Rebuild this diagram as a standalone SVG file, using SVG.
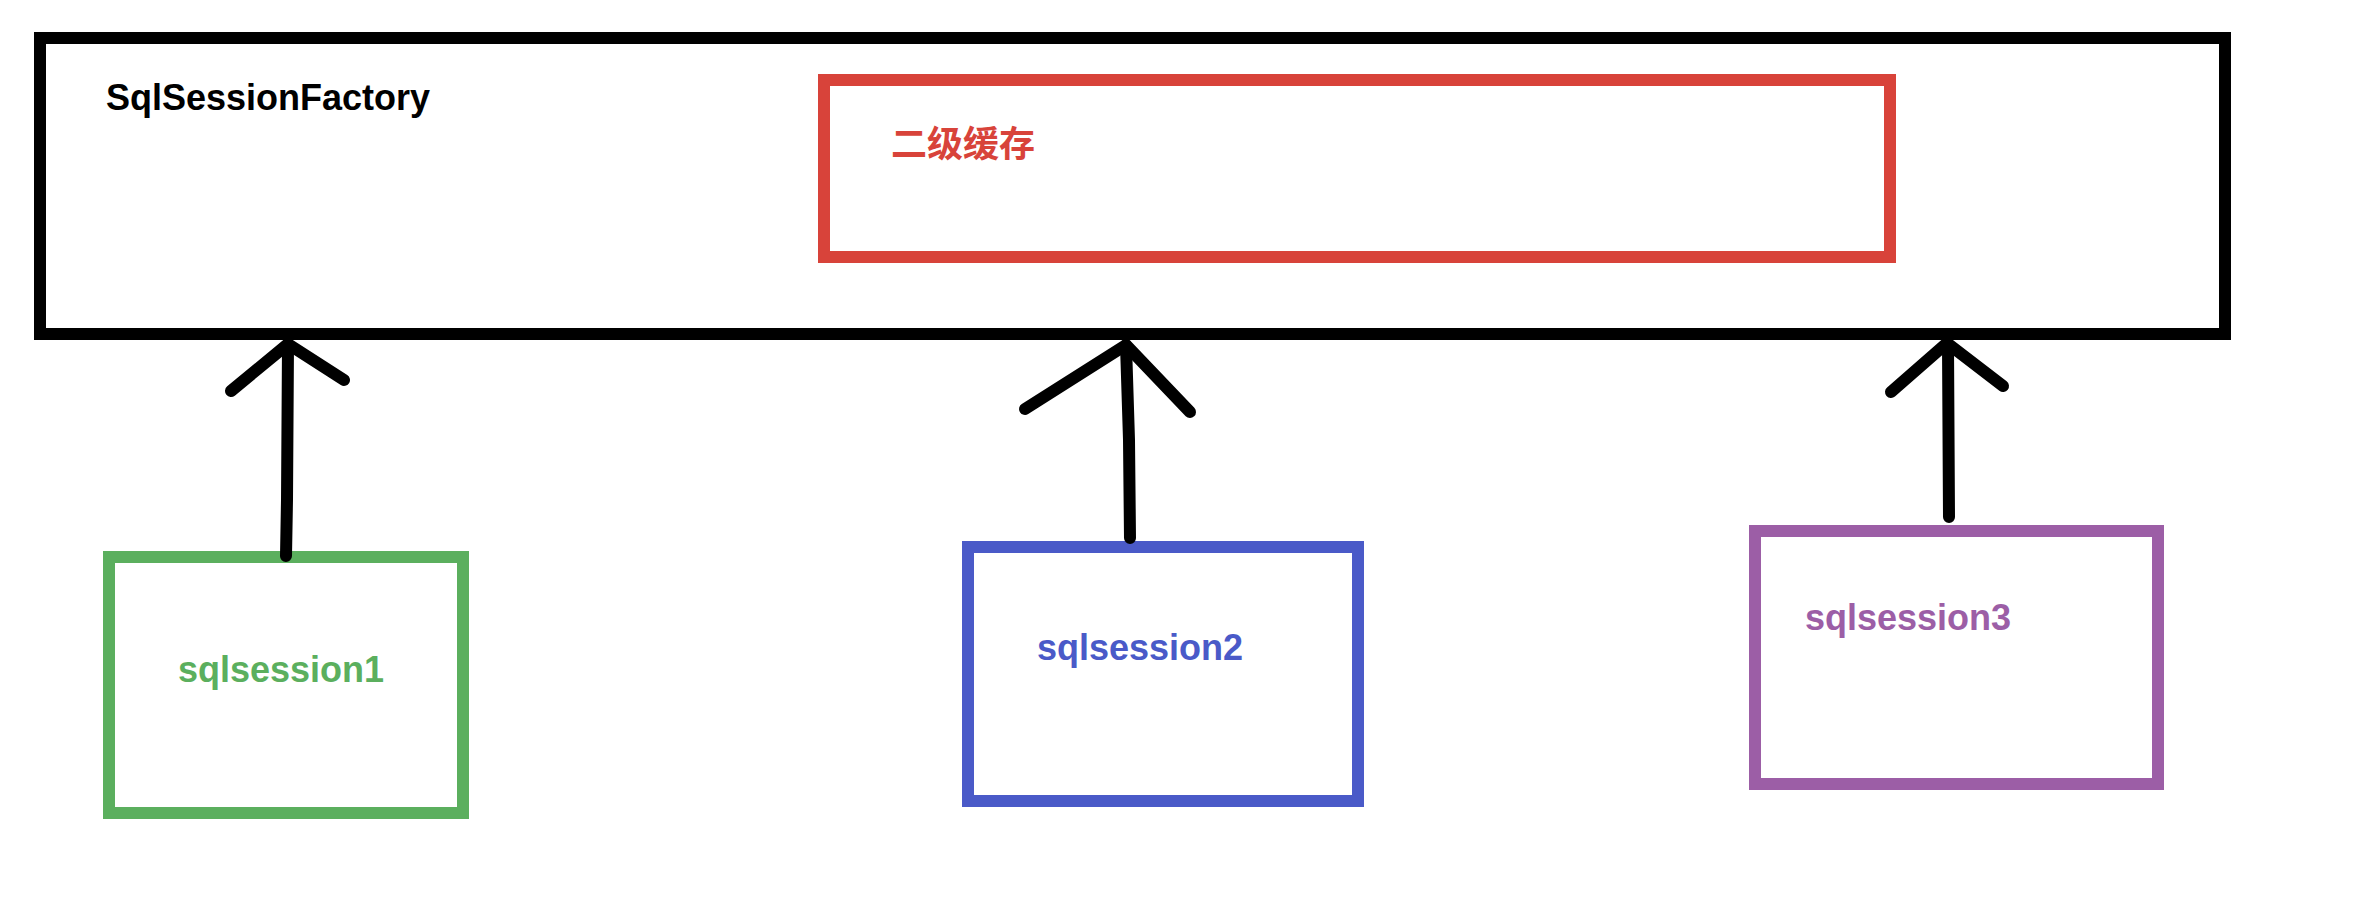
<svg xmlns="http://www.w3.org/2000/svg" width="2366" height="912" viewBox="0 0 2366 912">
  <style>
    .box { fill: none; stroke-width: 12; }
    .lbl { font-family: "Liberation Sans", Arial, sans-serif; font-weight: bold; font-size: 36px; }
    .cjk { font-family: "Noto Sans CJK SC", "Liberation Sans", sans-serif; font-weight: bold; font-size: 36px; }
    .conn { fill: none; stroke: #000; stroke-width: 12; stroke-linecap: round; stroke-linejoin: round; }
  </style>
  <rect x="0" y="0" width="2366" height="912" fill="#ffffff"/>
  <g id="factory">
    <rect class="box" x="40" y="38" width="2185" height="296" stroke="#000000"/>
    <text class="lbl" x="106" y="110" fill="#000000">SqlSessionFactory</text>
  </g>
  <g id="cache">
    <rect class="box" x="824" y="80" width="1066" height="177" stroke="#D8433A"/>
    <text class="cjk" x="891" y="157" fill="#D8433A">二级缓存</text>
  </g>
  <g id="session1">
    <rect class="box" x="109" y="557" width="354" height="256" stroke="#5BAF5E"/>
    <text class="lbl" x="178" y="682" fill="#5BAF5E">sqlsession1</text>
  </g>
  <g id="session2">
    <rect class="box" x="968" y="547" width="390" height="254" stroke="#4A5AC8"/>
    <text class="lbl" x="1037" y="660" fill="#4A5AC8">sqlsession2</text>
  </g>
  <g id="session3">
    <rect class="box" x="1755" y="531" width="403" height="253" stroke="#9C5EA6"/>
    <text class="lbl" x="1805" y="630" fill="#9C5EA6">sqlsession3</text>
  </g>
  <g id="connectors">
    <path class="conn" d="M286 556 L287 500 L288 344"/>
    <path class="conn" d="M231 391 L288 344 L344 380"/>
    <path class="conn" d="M1130 538 L1129 440 L1126 345"/>
    <path class="conn" d="M1025 409 L1126 345 L1190 412"/>
    <path class="conn" d="M1949 517 L1948 345"/>
    <path class="conn" d="M1891 392 L1947 343 L2003 386"/>
  </g>
</svg>
